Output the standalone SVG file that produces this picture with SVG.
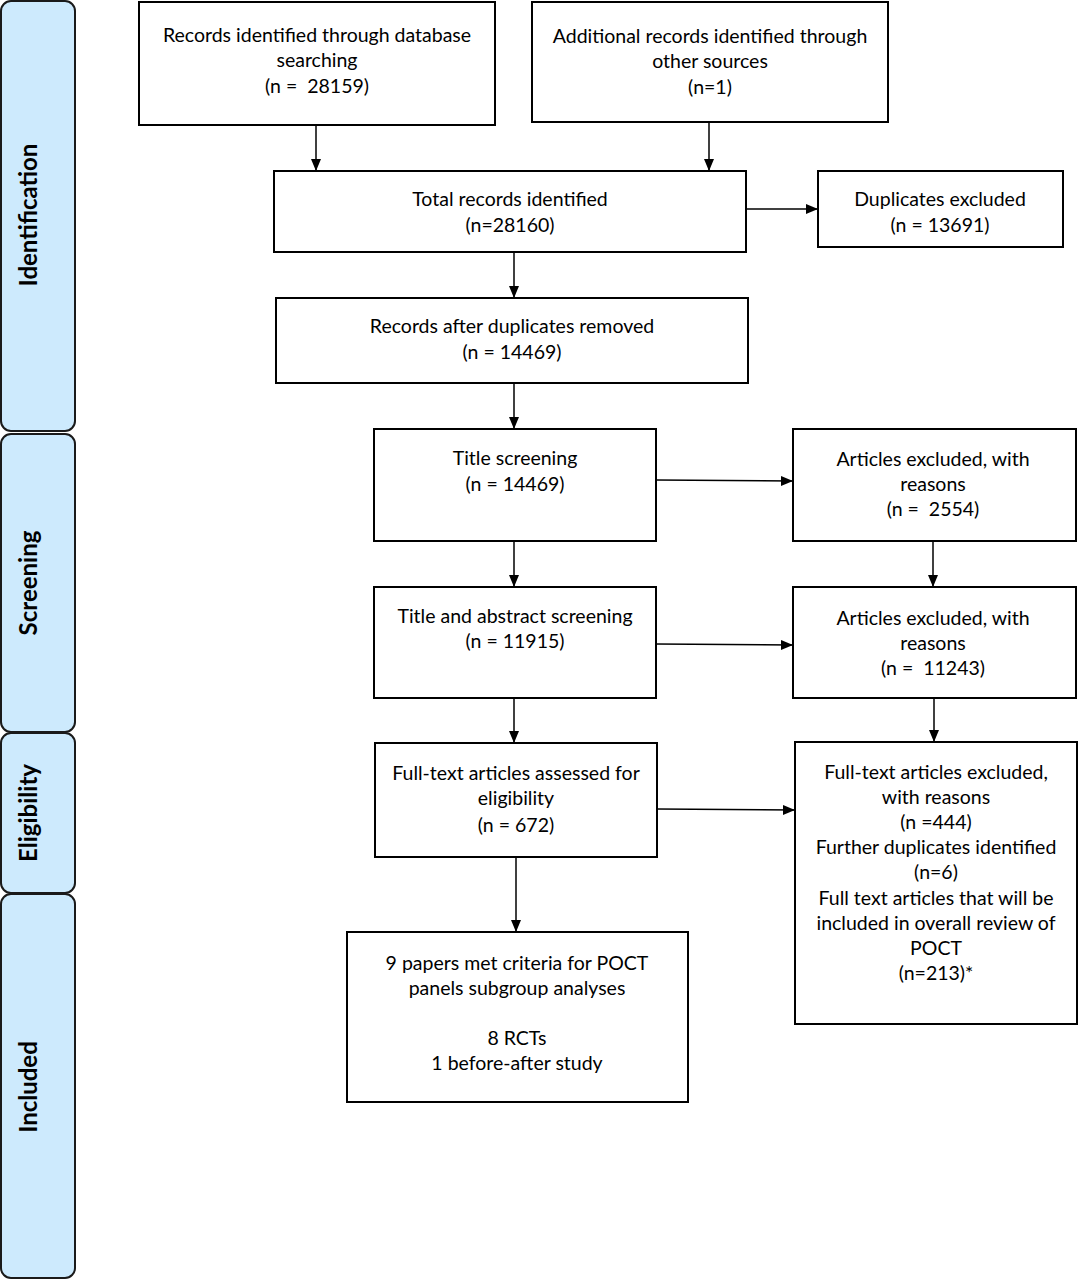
<svg xmlns="http://www.w3.org/2000/svg" width="1079" height="1280" viewBox="0 0 1079 1280">
<style>
.side{fill:#cdeafd;stroke:#1a1a1a;stroke-width:2}
.st{font-family:Lato,"Noto Sans",sans-serif;font-weight:bold;font-size:24px;fill:#000;text-anchor:middle}
.box{fill:#fff;stroke:#000;stroke-width:2}
.t{font-family:Lato,"Noto Sans",sans-serif;font-size:19.5px;fill:#000;text-anchor:middle;white-space:pre}
.c{stroke:#000;stroke-width:1.5;fill:none;marker-end:url(#ah)}
</style>
<defs>
<marker id="ah" viewBox="0 0 12 12" refX="12" refY="6" markerWidth="12" markerHeight="12" markerUnits="userSpaceOnUse" orient="auto">
<path d="M0,1 L12,6 L0,11 Z" fill="#000"/>
</marker>
</defs>
<rect width="1079" height="1280" fill="#fff"/>
<g id="phase-identification">
<rect class="side" x="1" y="1" width="74" height="430" rx="10"/>
<text class="st" transform="translate(37,215) rotate(-90)">Identification</text>
</g>
<g id="phase-screening">
<rect class="side" x="1" y="434" width="74" height="298" rx="10"/>
<text class="st" transform="translate(37,583) rotate(-90)">Screening</text>
</g>
<g id="phase-eligibility">
<rect class="side" x="1" y="733" width="74" height="160" rx="10"/>
<text class="st" transform="translate(37,813) rotate(-90)">Eligibility</text>
</g>
<g id="phase-included">
<rect class="side" x="1" y="894" width="74" height="384" rx="10"/>
<text class="st" transform="translate(37,1087) rotate(-90)">Included</text>
</g>
<g id="n-db">
<rect class="box" x="139" y="2" width="356" height="123"/>
<text class="t" x="317" y="42" xml:space="preserve">Records identified through database</text>
<text class="t" x="317" y="67">searching</text>
<text class="t" x="317" y="93" xml:space="preserve">(n =  28159)</text>
</g>
<g id="n-other">
<rect class="box" x="532" y="2" width="356" height="120"/>
<text class="t" x="710" y="43">Additional records identified through</text>
<text class="t" x="710" y="68">other sources</text>
<text class="t" x="710" y="94">(n=1)</text>
</g>
<g id="n-total">
<rect class="box" x="274" y="171" width="472" height="81"/>
<text class="t" x="510" y="206">Total records identified</text>
<text class="t" x="510" y="232">(n=28160)</text>
</g>
<g id="n-dup">
<rect class="box" x="818" y="171" width="245" height="76"/>
<text class="t" x="940" y="206">Duplicates excluded</text>
<text class="t" x="940" y="232">(n = 13691)</text>
</g>
<g id="n-after">
<rect class="box" x="276" y="298" width="472" height="85"/>
<text class="t" x="512" y="333">Records after duplicates removed</text>
<text class="t" x="512" y="359">(n = 14469)</text>
</g>
<g id="n-title">
<rect class="box" x="374" y="429" width="282" height="112"/>
<text class="t" x="515" y="465">Title screening</text>
<text class="t" x="515" y="491">(n = 14469)</text>
</g>
<g id="n-ex1">
<rect class="box" x="793" y="429" width="283" height="112"/>
<text class="t" x="933" y="466">Articles excluded, with</text>
<text class="t" x="933" y="491">reasons</text>
<text class="t" x="933" y="516" xml:space="preserve">(n =  2554)</text>
</g>
<g id="n-abs">
<rect class="box" x="374" y="587" width="282" height="111"/>
<text class="t" x="515" y="623">Title and abstract screening</text>
<text class="t" x="515" y="648">(n = 11915)</text>
</g>
<g id="n-ex2">
<rect class="box" x="793" y="587" width="283" height="111"/>
<text class="t" x="933" y="625">Articles excluded, with</text>
<text class="t" x="933" y="650">reasons</text>
<text class="t" x="933" y="675" xml:space="preserve">(n =  11243)</text>
</g>
<g id="n-full">
<rect class="box" x="375" y="743" width="282" height="114"/>
<text class="t" x="516" y="780">Full-text articles assessed for</text>
<text class="t" x="516" y="805">eligibility</text>
<text class="t" x="516" y="832">(n = 672)</text>
</g>
<g id="n-ex3">
<rect class="box" x="795" y="742" width="282" height="282"/>
<text class="t" x="936" y="779">Full-text articles excluded,</text>
<text class="t" x="936" y="804">with reasons</text>
<text class="t" x="936" y="829">(n =444)</text>
<text class="t" x="936" y="854">Further duplicates identified</text>
<text class="t" x="936" y="879">(n=6)</text>
<text class="t" x="936" y="905">Full text articles that will be</text>
<text class="t" x="936" y="930">included in overall review of</text>
<text class="t" x="936" y="955">POCT</text>
<text class="t" x="936" y="980">(n=213)*</text>
</g>
<g id="n-incl">
<rect class="box" x="347" y="932" width="341" height="170"/>
<text class="t" x="517" y="970">9 papers met criteria for POCT</text>
<text class="t" x="517" y="995">panels subgroup analyses</text>
<text class="t" x="517" y="1045">8 RCTs</text>
<text class="t" x="517" y="1070">1 before-after study</text>
</g>
<g id="connectors">
<line class="c" x1="316" y1="125" x2="316" y2="171"/>
<line class="c" x1="709" y1="122" x2="709" y2="171"/>
<line class="c" x1="746" y1="209" x2="818" y2="209"/>
<line class="c" x1="514" y1="252" x2="514" y2="298"/>
<line class="c" x1="514" y1="383" x2="514" y2="429"/>
<line class="c" x1="656" y1="480" x2="793" y2="481"/>
<line class="c" x1="514" y1="541" x2="514" y2="587"/>
<line class="c" x1="933" y1="541" x2="933" y2="587"/>
<line class="c" x1="656" y1="644" x2="793" y2="645"/>
<line class="c" x1="514" y1="698" x2="514" y2="743"/>
<line class="c" x1="934" y1="698" x2="934" y2="742"/>
<line class="c" x1="657" y1="809" x2="795" y2="810"/>
<line class="c" x1="516" y1="857" x2="516" y2="932"/>
</g>
</svg>
